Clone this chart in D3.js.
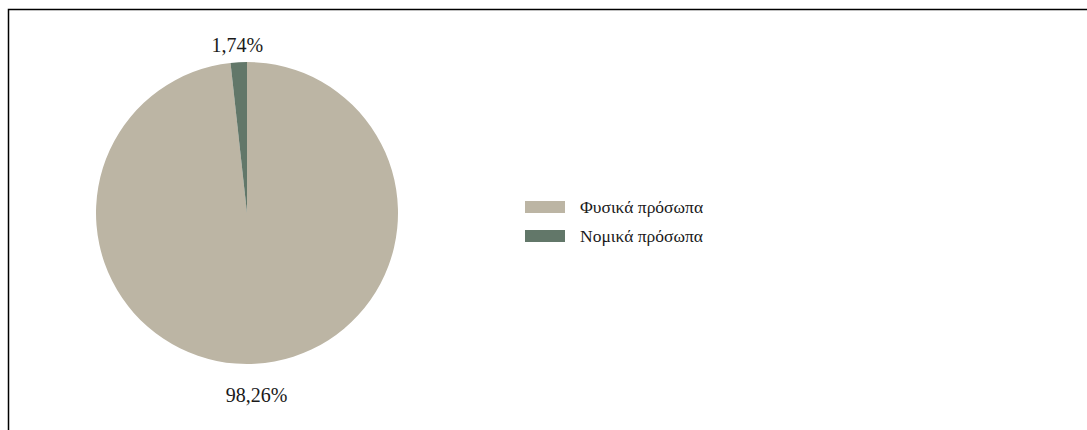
<!DOCTYPE html>
<html>
<head>
<meta charset="utf-8">
<script src="https://cdn.jsdelivr.net/npm/d3@7"></script>
<style>
  body { margin: 0; background: #fff; }
  svg text { font-family: "Liberation Serif", "DejaVu Serif", serif; fill: #1a1a1a; }
</style>
</head>
<body>
<div id="chart"></div>
<script>
const categories = ["Φυσικά πρόσωπα", "Νομικά πρόσωπα"];
const values = [98.26, 1.74];
const labels = ["98,26%", "1,74%"];
const colors = ["#bcb5a4", "#627769"];

const width = 1087, height = 430;
const cx = 247, cy = 213, radius = 151;

const svg = d3.select("#chart").append("svg")
  .attr("width", width)
  .attr("height", height);

// frame (only top and left visible)
svg.append("rect")
  .attr("x", 8.5).attr("y", 9.5)
  .attr("width", 1200).attr("height", 600)
  .attr("fill", "none")
  .attr("stroke", "#000")
  .attr("stroke-width", 1.5);

const pie = d3.pie().sort(null).value(d => d)(values);
const arc = d3.arc().innerRadius(0).outerRadius(radius);
const labelArc = d3.arc().innerRadius(radius + 24).outerRadius(radius + 24);

const g = svg.append("g").attr("transform", `translate(${cx},${cy})`);

g.selectAll("path")
  .data(pie)
  .enter()
  .append("path")
  .attr("d", arc)
  .attr("fill", (d, i) => colors[i]);

g.selectAll("text")
  .data(pie)
  .enter()
  .append("text")
  .attr("transform", d => {
    const [x, y] = labelArc.centroid(d);
    return `translate(${x},${y + 7})`;
  })
  .attr("text-anchor", "middle")
  .attr("dominant-baseline", "central")
  .attr("font-size", 20)
  .text((d, i) => labels[i]);

// legend
const legend = svg.append("g").attr("transform", "translate(525,201)");
const rows = legend.selectAll("g")
  .data(categories)
  .enter()
  .append("g")
  .attr("transform", (d, i) => `translate(0,${i * 29})`);

rows.append("rect")
  .attr("width", 40).attr("height", 12)
  .attr("fill", (d, i) => colors[i]);

rows.append("text")
  .attr("x", 55).attr("y", 6)
  .attr("dominant-baseline", "central")
  .attr("font-size", 17.5)
  .text(d => d);
</script>
</body>
</html>
